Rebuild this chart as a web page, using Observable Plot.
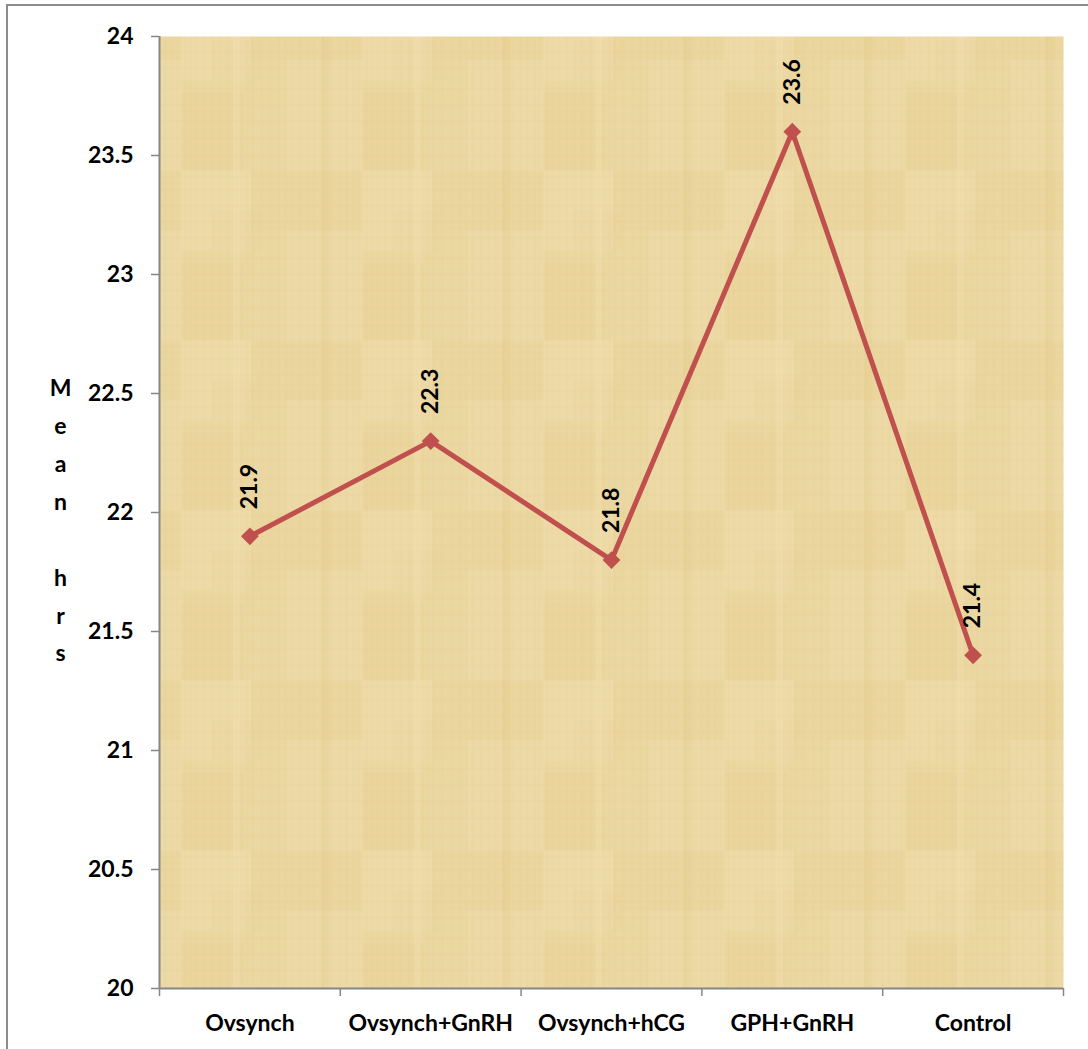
<!DOCTYPE html>
<html>
<head>
<meta charset="utf-8">
<script src="https://cdn.jsdelivr.net/npm/d3@7"></script>
<script src="https://cdn.jsdelivr.net/npm/@observablehq/plot@0.6"></script>
<style>
  html, body { margin: 0; padding: 0; background: #fff; overflow: hidden; }
  #chart { position: relative; width: 1088px; height: 1049px; }
  #chart svg { position: absolute; left: 0; top: 0; }
  #chart svg text { font-weight: 700; }
  #chart .border {
    position: absolute; left: 6px; top: 4px; right: -10px; bottom: -10px;
    border: 2px solid #8c8c8c; pointer-events: none; z-index: 1;
  }
</style>
</head>
<body>
<div id="chart"><div class="border"></div></div>
<script>
// Treatment groups and their mean duration (hours)
const groups = ["Ovsynch", "Ovsynch+GnRH", "Ovsynch+hCG", "GPH+GnRH", "Control"];
const meanHours = [21.9, 22.3, 21.8, 23.6, 21.4];
const yTicks = [20, 20.5, 21, 21.5, 22, 22.5, 23, 23.5, 24];
const yTitle = "Mean hrs";

// Each group sits in the middle of its own slot on a 0–5 axis
const rows = groups.map((g, i) => ({pos: i + 0.5, group: g, value: meanHours[i]}));
const slotEdges = d3.range(0, groups.length + 1);

const lineColor = "#c0504d";
const axisGray = "#868686";

// Papyrus-like backdrop for the plotting area: soft tiles plus faint fibres
function papyrusDefs() {
  const defs = d3.create("svg:defs");
  const p = defs.append("pattern")
    .attr("id", "papyrus")
    .attr("patternUnits", "userSpaceOnUse")
    .attr("width", 181).attr("height", 170);
  p.append("rect").attr("width", 181).attr("height", 170).attr("fill", "#ebd7a0");
  const patches = [
    [0, 0, 70, 80, "#f0dfb1", 0.35],
    [70, 0, 111, 60, "#e6cf94", 0.22],
    [105, 60, 76, 110, "#f0dfb2", 0.3],
    [0, 92, 62, 78, "#e6cd92", 0.22],
    [62, 100, 43, 70, "#eedaa8", 0.3],
    [30, 40, 50, 40, "#e8d199", 0.22],
    [140, 0, 8, 170, "#e2c887", 0.25],
    [52, 0, 6, 170, "#f2e2b6", 0.35]
  ];
  for (const [x, y, w, h, c, o] of patches) {
    p.append("rect").attr("x", x).attr("y", y).attr("width", w).attr("height", h)
      .attr("fill", c).attr("opacity", o);
  }
  const vx = [4, 9, 15, 23, 31, 38, 47, 55, 66, 71, 80, 89, 97, 104, 111, 118, 126, 133, 141, 150, 158, 165, 172, 177];
  const hy = [6, 12, 19, 27, 35, 44, 51, 58, 67, 79, 88, 96, 104, 111, 120, 129, 138, 147, 155, 163];
  vx.forEach((x, k) => p.append("line").attr("x1", x).attr("x2", x).attr("y1", 0).attr("y2", 170)
    .attr("stroke", "#b99a58").attr("stroke-width", k % 3 === 0 ? 1 : 0.6).attr("opacity", 0.1));
  hy.forEach((y, k) => p.append("line").attr("x1", 0).attr("x2", 181).attr("y1", y).attr("y2", y)
    .attr("stroke", "#b99a58").attr("stroke-width", k % 2 === 0 ? 0.9 : 0.5).attr("opacity", 0.08));
  return defs.node();
}

const chart = Plot.plot({
  width: 1088,
  height: 1049,
  marginLeft: 159,
  marginRight: 25,
  marginTop: 36,
  marginBottom: 61,
  style: {
    background: "transparent",
    fontFamily: "Lato, 'Open Sans', sans-serif",
    fontSize: "23px",
    fontWeight: "bold",
    color: "#000"
  },
  x: {domain: [0, groups.length]},
  y: {domain: [20, 24]},
  marks: [
    papyrusDefs,
    Plot.frame({fill: "url(#papyrus)", stroke: null}),
    // axis lines
    Plot.ruleX([0], {stroke: axisGray, strokeWidth: 2}),
    Plot.ruleY([20], {stroke: axisGray, strokeWidth: 2}),
    // y axis
    Plot.axisY({
      ticks: yTicks, tickSize: 8, tickPadding: 18,
      stroke: axisGray, strokeWidth: 1.5, tickFormat: d => String(d), label: null
    }),
    // x axis: tick marks at slot edges, labels at slot centres
    Plot.axisX({ticks: slotEdges, tickSize: 8, tickFormat: () => "", stroke: axisGray, strokeWidth: 1.5, label: null}),
    Plot.axisX({
      ticks: rows.map(d => d.pos), tickSize: 0, tickPadding: 26,
      tickFormat: p => groups[Math.floor(p)], label: null
    }),
    // vertical, letter-stacked axis title
    Plot.text([yTitle.split("").join("\n")], {
      frameAnchor: "left", dx: -99, dy: 4, lineHeight: 1.65, textAnchor: "middle", fontWeight: "bold"
    }),
    // series
    Plot.line(rows, {x: "pos", y: "value", stroke: lineColor, strokeWidth: 5}),
    Plot.dot(rows, {x: "pos", y: "value", symbol: "diamond2", r: 8, fill: lineColor, stroke: null}),
    Plot.text(rows, {
      x: "pos", y: "value", text: d => d.value.toFixed(1),
      rotate: -90, textAnchor: "start", dy: -27, fontWeight: "bold"
    })
  ]
});

document.getElementById("chart").prepend(chart);
</script>
</body>
</html>
